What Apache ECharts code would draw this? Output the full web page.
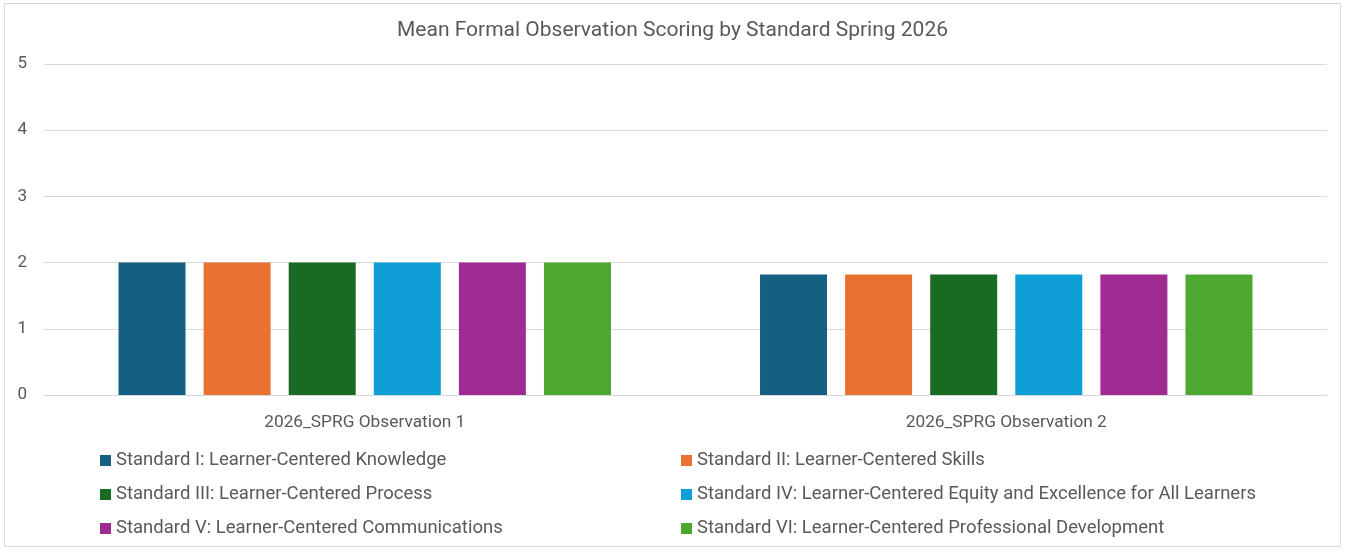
<!DOCTYPE html>
<html>
<head>
<meta charset="utf-8">
<script src="https://cdn.jsdelivr.net/npm/echarts@6/dist/echarts.min.js"></script>
<style>
  html, body { margin: 0; padding: 0; background: #fff; }
  #main { width: 1345px; height: 550px; }
</style>
</head>
<body>
<div id="main"></div>
<script>
var categories = ['2026_SPRG Observation 1', '2026_SPRG Observation 2'];
var standards = [
    'Standard I: Learner-Centered Knowledge',
    'Standard II: Learner-Centered Skills',
    'Standard III: Learner-Centered Process',
    'Standard IV: Learner-Centered Equity and Excellence for All Learners',
    'Standard V: Learner-Centered Communications',
    'Standard VI: Learner-Centered Professional Development'
];
var std1 = [2, 1.82];
var std2 = [2, 1.82];
var std3 = [2, 1.82];
var std4 = [2, 1.82];
var std5 = [2, 1.82];
var std6 = [2, 1.82];
var yTicks = [0, 1, 2, 3, 4, 5];
var colors = ['#156082', '#E97132', '#196B24', '#0F9ED5', '#A02B93', '#4EA72E'];

var font = 'Roboto, "Open Sans", sans-serif';
var textColor = '#595959';
var values = [std1, std2, std3, std4, std5, std6];

var myChart = echarts.init(document.getElementById('main'));

var series = [];
for (var i = 0; i < standards.length; i++) {
    series.push({
        name: standards[i],
        type: 'bar',
        data: values[i],
        barWidth: 67,
        barGap: '27%',
        itemStyle: { color: colors[i] }
    });
}

// two columns of legend, like the office chart
function legendBlock(names, left) {
    return {
        data: names,
        orient: 'vertical',
        left: left,
        top: 446,
        itemGap: 15,
        itemWidth: 11,
        itemHeight: 11,
        icon: 'rect',
        selectedMode: false,
        textStyle: { color: textColor, fontSize: 18.5, fontFamily: font }
    };
}

var option = {
    animation: false,
    color: colors,
    title: {
        text: 'Mean Formal Observation Scoring by Standard Spring 2026',
        left: 'center',
        top: 15,
        textStyle: { color: textColor, fontSize: 21, fontWeight: 'normal', fontFamily: font }
    },
    graphic: [{
        type: 'rect',
        shape: { x: 4.5, y: 3.5, width: 1336, height: 543 },
        style: { fill: 'none', stroke: '#d9d9d9', lineWidth: 1 },
        silent: true
    }],
    legend: [
        legendBlock([standards[0], standards[2], standards[4]], 95),
        legendBlock([standards[1], standards[3], standards[5]], 676)
    ],
    grid: { left: 44, right: 18, top: 64, bottom: 155 },
    xAxis: {
        type: 'category',
        data: categories,
        axisLine: { lineStyle: { color: '#d9d9d9' } },
        axisTick: { show: false },
        axisLabel: { color: textColor, fontSize: 17.3, fontFamily: font, margin: 19 }
    },
    yAxis: {
        type: 'value',
        min: yTicks[0],
        max: yTicks[yTicks.length - 1],
        interval: 1,
        axisLine: { show: false },
        axisTick: { show: false },
        splitLine: { lineStyle: { color: '#d9d9d9' } },
        axisLabel: { color: textColor, fontSize: 17, fontFamily: font, margin: 17 }
    },
    series: series
};

myChart.setOption(option);
</script>
</body>
</html>
